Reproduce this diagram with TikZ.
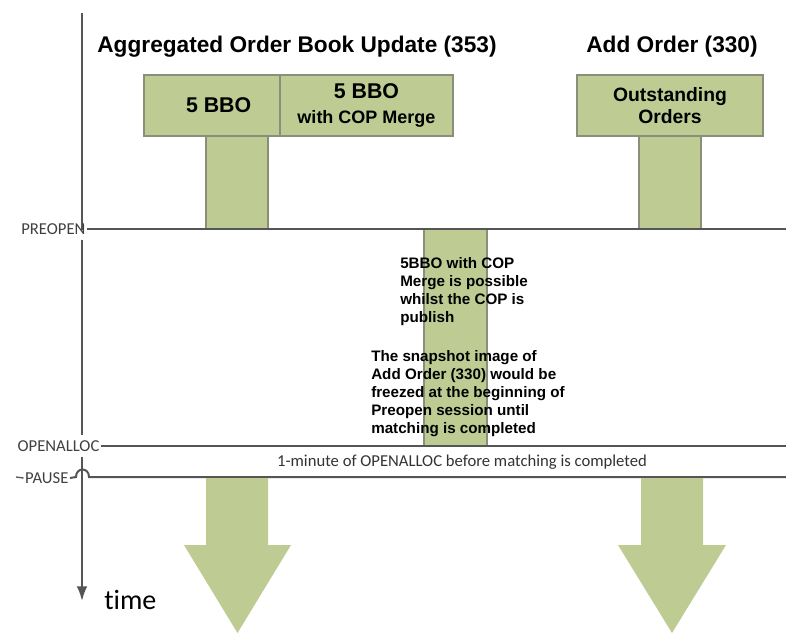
\documentclass[tikz,border=0pt]{standalone}
\usepackage{fontspec}
\setmainfont{Liberation Sans}
\newfontfamily\calfont[Ligatures=NoCommon]{Carlito}
\usetikzlibrary{arrows.meta}
\definecolor{barfill}{RGB}{190,204,148}
\definecolor{barline}{RGB}{138,142,122}
\definecolor{axisgray}{RGB}{85,85,85}

\begin{document}
\begin{tikzpicture}[x=0.75pt,y=-0.75pt,
		hdr/.style={font=\bfseries\fontsize{17}{20}\selectfont},
		msgbox/.style={draw=barline, fill=barfill, line width=0.8pt, minimum height=45.75pt, inner sep=0pt, align=center},
		bar/.style={draw=barline, fill=barfill, line width=0.8pt},
		phase/.style={font=\calfont\fontsize{12.5}{14}\selectfont, text=black!75, inner sep=1pt},
		tl/.style={draw=axisgray, line width=1.5pt},
		note/.style={font=\bfseries\fontsize{11.4}{13.5}\selectfont, align=left, inner sep=0pt}
			]
	\useasboundingbox (0,0) rectangle (786,633);
	
	% stems
	\draw[bar] (206,136) rectangle (268,229);
	\draw[bar] (639,136) rectangle (701,229);
	\draw[bar] (424,229) rectangle (487,446);
	
	% message boxes
	\node[hdr] (ttlAgg) at (297,47) {Aggregated Order Book Update (353)};
	\node[hdr] (ttlAdd) at (672,47) {Add Order (330)};
	\node[msgbox, minimum width=102pt, font=\bfseries\fontsize{16}{18}\selectfont] (bbo) at (212,105.5) {\hspace*{10pt}5 BBO};
	\node[msgbox, minimum width=129.75pt, font=\bfseries\fontsize{13.5}{18.75}\selectfont] (bbocop) at (366.5,105.5) {{\fontsize{16}{18.75}\selectfont 5 BBO}\\with COP Merge};
	\node[msgbox, minimum width=139.5pt, font=\bfseries\fontsize{14.5}{16.5}\selectfont] (outst) at (670,105.5) {Outstanding\\Orders};
	
	% time axis
	\draw[tl] (82,13) -- (82,230);
	\draw[tl] (82,240) -- (82,435);
	\draw[tl, -{Latex[length=11pt,width=8pt]}] (82,457) -- (82,601);
	\node[font=\calfont\fontsize{21}{24}\selectfont, anchor=base west, inner sep=0pt] (timeLbl) at (104,609) {time};
	
	% phases
	\coordinate (preEnd) at (786,229);
	\coordinate (openEnd) at (786,446);
	\coordinate (pauseEnd) at (786,477);
	\node[phase, anchor=east] (lblPre) at (87,229) {PREOPEN};
	\node[phase, anchor=east] (lblOpen) at (101,446) {OPENALLOC};
	\node[phase, anchor=east] (lblPause) at (70,478) {PAUSE};
	\draw[tl] (lblPre.east) -- (preEnd);
	\draw[tl] (lblOpen.east) -- (openEnd);
	\draw[tl, line width=1pt] (16,477) -- (lblPause.west);
	\draw[tl] (lblPause.east) -- (76,477) .. controls (76,467) and (89,467) .. (89,477) -- (pauseEnd);
	\node[phase, text=black!80] (noteMin) at (462,462) {1-minute of OPENALLOC before matching is completed};
	
	% notes
	\node[note, anchor=north west] (noteCop) at (400,257) {5BBO with COP\\Merge is possible\\whilst the COP is\\publish};
	\node[note, anchor=north west] (noteSnap) at (371,350) {The snapshot image of\\Add Order (330) would be\\freezed at the beginning of\\Preopen session until\\matching is completed};
	
	% fat arrows
	\fill[barfill] (206,478) -- (268,478) -- (268,545) -- (291,545) -- (237.5,633) -- (184,545) -- (206,545) -- cycle;
	\fill[barfill] (641,478) -- (703,478) -- (703,545) -- (726,545) -- (672,633) -- (618,545) -- (641,545) -- cycle;
\end{tikzpicture}
\end{document}
